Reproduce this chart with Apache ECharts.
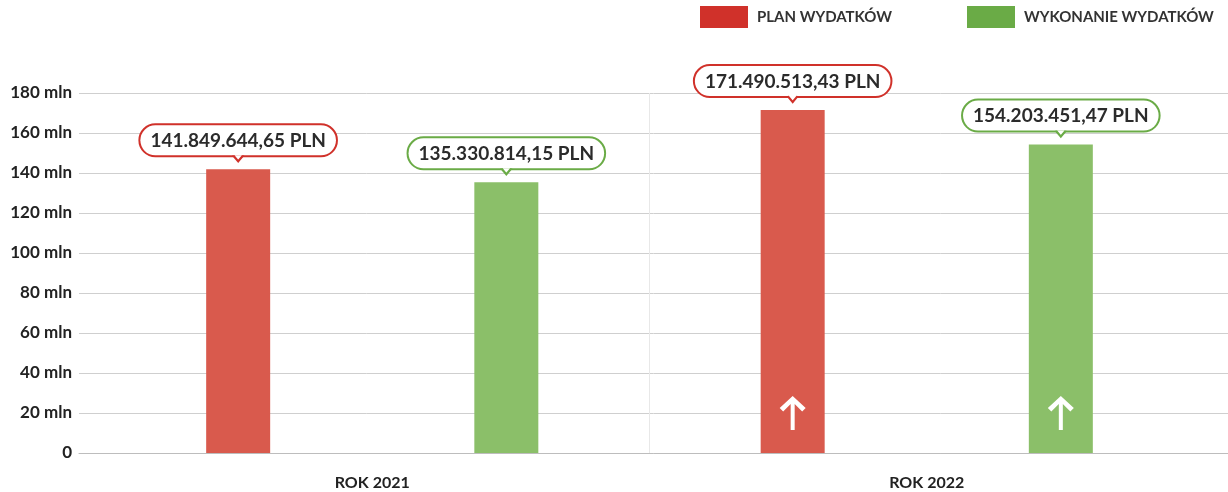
<!DOCTYPE html>
<html>
<head>
<meta charset="utf-8">
<script src="https://cdn.jsdelivr.net/npm/echarts@6/dist/echarts.min.js"></script>
<style>
  html, body { margin: 0; padding: 0; background: #fff; }
  #chart { width: 1228px; height: 492px; }
</style>
</head>
<body>
<div id="chart"></div>
<script>
const categories = ['ROK 2021', 'ROK 2022']
const planValues = [141849644.65, 171490513.43]
const actualValues = [135330814.15, 154203451.47]
const yTicks = { min: 0, max: 180e6, interval: 20e6 }

const FONT = 'Lato'
const RED = '#d0312a'
const GREEN = '#6aab46'
const RED_BAR = '#d95a4d'
const GREEN_BAR = '#8bbf69'

const ARROW = 'path://M13,0 L26,12 L22.5,15.5 L15,8 L15,34 L11,34 L11,8 L3.5,15.5 L0,12 Z'
const NOTCH = 'path://M0,0 L5,6 L10,0'

function fmtPln(v) {
  const parts = v.toFixed(2).split('.')
  return parts[0].replace(/\B(?=(\d{3})+(?!\d))/g, '.') + ',' + parts[1] + ' PLN'
}

function barSeries(name, values, barColor, lineColor) {
  return {
    name: name,
    type: 'bar',
    xAxisIndex: 1,
    yAxisIndex: 1,
    barWidth: 64,
    barGap: '319%',
    data: values,
    itemStyle: { color: barColor },
    emphasis: { disabled: true },
    label: {
      show: true,
      position: 'top',
      distance: 14,
      formatter: p => fmtPln(p.value),
      fontFamily: FONT,
      fontWeight: 'bold',
      fontSize: 19,
      lineHeight: 21,
      color: '#2b2b2b',
      backgroundColor: '#fff',
      borderColor: lineColor,
      borderWidth: 2,
      borderRadius: 16,
      padding: [5, 10, 4, 10]
    },
    markPoint: {
      silent: true,
      animation: false,
      label: { show: false },
      data: values.map((v, i) => ({
        coord: [categories[i], v],
        symbol: NOTCH,
        symbolSize: [10, 6],
        symbolOffset: [0, -11],
        itemStyle: { color: '#fff', borderColor: lineColor, borderWidth: 2 }
      })).concat([{
        coord: [categories[1], 20e6],
        symbol: ARROW,
        symbolSize: [26, 34],
        symbolOffset: [0, 0],
        itemStyle: { color: '#fff' }
      }])
    }
  }
}

const chart = echarts.init(document.getElementById('chart'))
chart.setOption({
  animation: false,
  textStyle: { fontFamily: FONT },
  legend: {
    left: 695,
    top: 1,
    itemWidth: 48,
    itemHeight: 22,
    itemGap: 75,
    selectedMode: false,
    textStyle: { fontFamily: FONT, fontWeight: 'bold', fontSize: 15, color: '#333', padding: [0, 0, 0, 4] },
    data: [
      { name: 'PLAN WYDATKÓW', icon: 'rect', itemStyle: { color: RED } },
      { name: 'WYKONANIE WYDATKÓW', icon: 'rect', itemStyle: { color: GREEN } }
    ]
  },
  grid: [
    { left: 79, right: 0, top: 93, bottom: 39, containLabel: false },
    { left: 95, right: 24, top: 93, bottom: 39, containLabel: false }
  ],
  xAxis: [
    {
      type: 'category',
      gridIndex: 0,
      data: categories,
      axisTick: { show: false },
      axisLabel: { show: false },
      axisLine: { lineStyle: { color: '#bdbdbd', width: 1 } }
    },
    {
      type: 'category',
      gridIndex: 1,
      data: categories,
      axisTick: { show: false },
      axisLine: { show: false },
      axisLabel: { margin: 22, fontFamily: FONT, fontWeight: 'bold', fontSize: 16, color: '#222' },
      splitLine: { show: true, lineStyle: { color: ['rgba(0,0,0,0)', '#e8e8e8', 'rgba(0,0,0,0)'] } }
    }
  ],
  yAxis: [
    {
      type: 'value',
      gridIndex: 0,
      min: yTicks.min,
      max: yTicks.max,
      interval: yTicks.interval,
      axisLine: { show: false },
      axisTick: { show: false },
      axisLabel: {
        margin: 7,
        fontFamily: FONT,
        fontWeight: 'bold',
        fontSize: 17,
        color: '#222',
        formatter: v => (v === 0 ? '0' : v / 1e6 + ' mln')
      },
      splitLine: { lineStyle: { color: '#cfcfcf' } }
    },
    {
      type: 'value',
      gridIndex: 1,
      min: yTicks.min,
      max: yTicks.max,
      interval: yTicks.interval,
      axisLine: { show: false },
      axisTick: { show: false },
      axisLabel: { show: false },
      splitLine: { show: false }
    }
  ],
  series: [
    barSeries('PLAN WYDATKÓW', planValues, RED_BAR, RED),
    barSeries('WYKONANIE WYDATKÓW', actualValues, GREEN_BAR, GREEN)
  ]
})
</script>
</body>
</html>
